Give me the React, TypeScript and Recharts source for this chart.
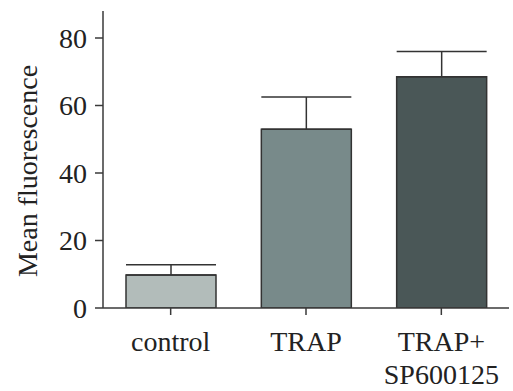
import { Bar, BarChart, Cell, ErrorBar, Label, XAxis, YAxis } from 'recharts';

const CATEGORIES = ['control', 'TRAP', 'TRAP+\nSP600125'];
const MEANS = [9.8, 53, 68.5];
const ERRORS = [3, 9.5, 7.5];
const Y_TICKS = [0, 20, 40, 60, 80];
const BAR_COLORS = ['#b2bcba', '#788a8a', '#4a5757'];

const data = CATEGORIES.map((name, i) => ({
    name,
    mean: MEANS[i],
    err: [0, ERRORS[i]],
}));

const FONT = '"Liberation Serif", "Times New Roman", serif';
const INK = '#3a3a3a';

const CategoryTick = (props: any) => {
    const { x, y, payload } = props;
    const lines = String(payload.value).split('\n');
    return (
        <g transform={`translate(${x},${y})`}>
            <text textAnchor="middle" fill="#222" fontSize={28} fontFamily={FONT}>
                {lines.map((line, i) => (
                    <tspan key={i} x={0} dy={i === 0 ? 34 : 33}>
                        {line}
                    </tspan>
                ))}
            </text>
        </g>
    );
};

export default function App() {
    return (
        <div style={{ position: 'absolute', left: 0, top: 0, background: '#fff' }}>
            <BarChart
                width={513}
                height={391}
                data={data}
                margin={{ top: 11, right: 4, left: 0, bottom: 0 }}
                barSize={90}
            >
                <XAxis
                    dataKey="name"
                    height={83}
                    interval={0}
                    stroke={INK}
                    strokeWidth={1.5}
                    tickSize={7}
                    tickMargin={2}
                    tick={<CategoryTick />}
                />
                <YAxis
                    width={103}
                    domain={[0, 88]}
                    ticks={Y_TICKS}
                    allowDataOverflow
                    stroke={INK}
                    strokeWidth={1.5}
                    tickSize={8}
                    tickMargin={8}
                    tick={{ fill: '#222', fontSize: 28, fontFamily: FONT }}
                >
                    <Label
                        content={() => (
                            <text
                                transform="translate(37,171) rotate(-90)"
                                textAnchor="middle"
                                fill="#222"
                                fontSize={28}
                                fontFamily={FONT}
                            >
                                Mean fluorescence
                            </text>
                        )}
                    />
                </YAxis>
                <Bar dataKey="mean" stroke="#333" strokeWidth={1.5} isAnimationActive={false}>
                    {data.map((d, i) => (
                        <Cell key={d.name} fill={BAR_COLORS[i]} />
                    ))}
                    <ErrorBar dataKey="err" width={45} stroke="#333" strokeWidth={1.5} />
                </Bar>
            </BarChart>
        </div>
    );
}
